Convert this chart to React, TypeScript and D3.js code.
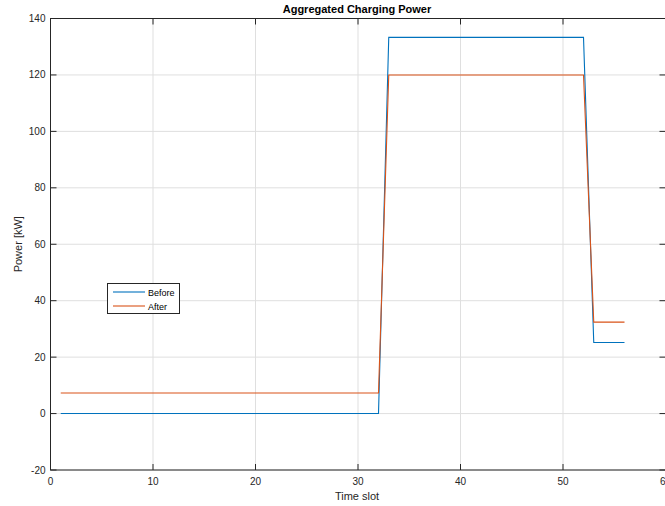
import React from "react";
import * as d3 from "d3";

const W = 665;
const H = 506;

const timeSlots: number[] = Array.from({ length: 56 }, (_, i) => i + 1);
const beforeValues: number[] = [
  0, 0, 0, 0, 0, 0, 0, 0, 0, 0, 0, 0, 0, 0, 0, 0,
  0, 0, 0, 0, 0, 0, 0, 0, 0, 0, 0, 0, 0, 0, 0, 0,
  133.3, 133.3, 133.3, 133.3, 133.3, 133.3, 133.3, 133.3, 133.3, 133.3,
  133.3, 133.3, 133.3, 133.3, 133.3, 133.3, 133.3, 133.3, 133.3, 133.3,
  25.2, 25.2, 25.2, 25.2,
];
const afterValues: number[] = [
  7.3, 7.3, 7.3, 7.3, 7.3, 7.3, 7.3, 7.3, 7.3, 7.3, 7.3, 7.3, 7.3, 7.3, 7.3, 7.3,
  7.3, 7.3, 7.3, 7.3, 7.3, 7.3, 7.3, 7.3, 7.3, 7.3, 7.3, 7.3, 7.3, 7.3, 7.3, 7.3,
  120, 120, 120, 120, 120, 120, 120, 120, 120, 120,
  120, 120, 120, 120, 120, 120, 120, 120, 120, 120,
  32.4, 32.4, 32.4, 32.4,
];
const xTicks: number[] = [0, 10, 20, 30, 40, 50, 60];
const yTicks: number[] = [-20, 0, 20, 40, 60, 80, 100, 120, 140];
const seriesNames: string[] = ["Before", "After"];
const seriesColors: string[] = ["#0072BD", "#D95319"];

const margin = { left: 50.5, top: 18.5, right: 665.5, bottom: 470 };

export default function App() {
  const x = d3.scaleLinear().domain([0, 60]).range([margin.left, margin.right]);
  const y = d3.scaleLinear().domain([-20, 140]).range([margin.bottom, margin.top]);
  const line = d3
    .line<number>()
    .x((_, i) => x(timeSlots[i]))
    .y((d) => y(d));
  const series = [beforeValues, afterValues];
  const font = "'Liberation Sans', Arial, Helvetica, sans-serif";
  const axisColor = "#262626";
  const tickLen = 6;

  return (
    <svg
      width={W}
      height={H}
      style={{ position: "absolute", left: 0, top: 0, background: "#fff" }}
      fontFamily={font}
    >
      <rect x={0} y={0} width={W} height={H} fill="#fff" />
      {/* grid */}
      {xTicks.map((t) => (
        <line key={"gx" + t} x1={x(t)} x2={x(t)} y1={margin.top} y2={margin.bottom} stroke="#dfdfdf" strokeWidth={1} />
      ))}
      {yTicks.map((t) => (
        <line key={"gy" + t} x1={margin.left} x2={margin.right} y1={y(t)} y2={y(t)} stroke="#dfdfdf" strokeWidth={1} />
      ))}
      {/* series */}
      {series.map((s, i) => (
        <path key={"s" + i} d={line(s) || ""} fill="none" stroke={seriesColors[i]} strokeWidth={1.1} />
      ))}
      {/* axes box */}
      <rect
        x={margin.left}
        y={margin.top}
        width={margin.right - margin.left}
        height={margin.bottom - margin.top}
        fill="none"
        stroke={axisColor}
        strokeWidth={1}
      />
      {/* ticks */}
      {xTicks.map((t) => (
        <g key={"tx" + t}>
          <line x1={x(t)} x2={x(t)} y1={margin.bottom} y2={margin.bottom - tickLen} stroke={axisColor} />
          <line x1={x(t)} x2={x(t)} y1={margin.top} y2={margin.top + tickLen} stroke={axisColor} />
          <text x={x(t)} y={margin.bottom + 15} textAnchor="middle" fontSize={10} fill={axisColor}>
            {t}
          </text>
        </g>
      ))}
      {yTicks.map((t) => (
        <g key={"ty" + t}>
          <line x1={margin.left} x2={margin.left + tickLen} y1={y(t)} y2={y(t)} stroke={axisColor} />
          <line x1={margin.right} x2={margin.right - tickLen} y1={y(t)} y2={y(t)} stroke={axisColor} />
          <text x={margin.left - 5} y={y(t) + 3.5} textAnchor="end" fontSize={10} fill={axisColor}>
            {t}
          </text>
        </g>
      ))}
      {/* title & labels */}
      <text x={357} y={13} textAnchor="middle" fontSize={11} fontWeight="bold" fill="#000">
        Aggregated Charging Power
      </text>
      <text x={357} y={500} textAnchor="middle" fontSize={11} fill={axisColor}>
        Time slot
      </text>
      <text
        transform={`translate(22,${(margin.top + margin.bottom) / 2}) rotate(-90)`}
        textAnchor="middle"
        fontSize={11}
        fill={axisColor}
      >
        Power [kW]
      </text>
      {/* legend */}
      <g>
        <rect x={107.5} y={283.5} width={72} height={30} fill="#fff" stroke={axisColor} strokeWidth={1} />
        {seriesNames.map((n, i) => (
          <g key={"lg" + i}>
            <line x1={113} x2={145} y1={292 + i * 14} y2={292 + i * 14} stroke={seriesColors[i]} strokeWidth={1.1} />
            <text x={148} y={295.5 + i * 14} fontSize={9} fill="#000">
              {n}
            </text>
          </g>
        ))}
      </g>
    </svg>
  );
}
